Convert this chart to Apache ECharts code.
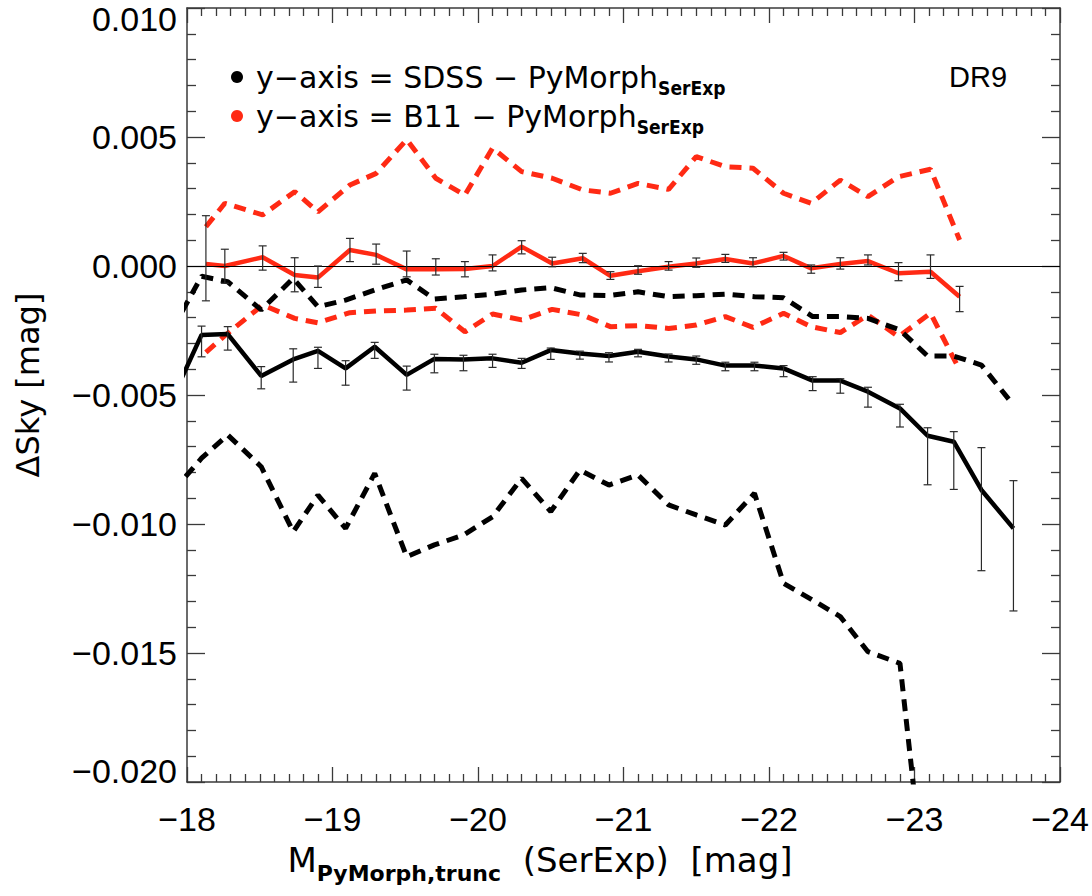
<!DOCTYPE html>
<html>
<head>
<meta charset="utf-8">
<script src="https://cdn.jsdelivr.net/npm/echarts@6/dist/echarts.min.js"></script>
<style>html,body{margin:0;padding:0;background:#fff}#c{width:1092px;height:896px}</style>
</head>
<body>
<div id="c"></div>
<script>
// ---- data ----
const blackX = [-17.9, -18.1, -18.28, -18.51, -18.73, -18.9, -19.09, -19.29, -19.51, -19.7, -19.9, -20.1, -20.3, -20.5, -20.7, -20.9, -21.1, -21.31, -21.5, -21.7, -21.9, -22.1, -22.3, -22.49, -22.68, -22.9, -23.09, -23.27, -23.46, -23.68];
const sdssMean = [-0.00513, -0.00267, -0.00264, -0.00426, -0.00362, -0.00329, -0.00397, -0.00313, -0.00422, -0.0036, -0.00362, -0.00358, -0.00375, -0.00326, -0.00339, -0.00349, -0.00332, -0.00351, -0.00362, -0.00386, -0.00386, -0.00397, -0.00444, -0.00444, -0.00487, -0.00552, -0.00658, -0.00681, -0.00868, -0.01017];
const sdssErrHigh = [null, -0.00233, -0.00235, -0.0039, -0.00321, -0.00315, -0.00367, -0.00296, -0.00388, -0.00342, -0.00346, -0.00342, -0.00358, -0.00318, -0.0033, -0.00336, -0.00323, -0.00341, -0.00349, -0.00373, -0.00373, -0.00386, -0.00429, -0.00437, -0.0047, -0.00536, -0.00627, -0.00642, -0.00704, -0.00832];
const sdssErrLow = [null, -0.00352, -0.00326, -0.00476, -0.0045, -0.00397, -0.00462, -0.00358, -0.00481, -0.00414, -0.00406, -0.00393, -0.00397, -0.00362, -0.00361, -0.00372, -0.00352, -0.00372, -0.00381, -0.00406, -0.00406, -0.00429, -0.00483, -0.00493, -0.00547, -0.00624, -0.00848, -0.00866, -0.01181, -0.01337];
const sdssUpper = [-0.00244, -0.0004, -0.00061, -0.0017, -0.00048, -0.00158, -0.00132, -0.00093, -0.00054, -0.00128, -0.00119, -0.00109, -0.00093, -0.00084, -0.00112, -0.00115, -0.001, -0.00119, -0.00115, -0.00109, -0.00119, -0.00123, -0.00196, -0.00196, -0.00203, -0.00248, -0.00349, -0.00349, -0.00384, -0.00539];
const sdssLower = [-0.00875, -0.00745, -0.00655, -0.00778, -0.0103, -0.00888, -0.01017, -0.00804, -0.01127, -0.01081, -0.01043, -0.00972, -0.00823, -0.00952, -0.00791, -0.00849, -0.0081, -0.00926, -0.00965, -0.01004, -0.00881, -0.0123, -0.01295, -0.01359, -0.01495, -0.0154, -0.0251];

const redX = [-18.13, -18.26, -18.52, -18.74, -18.9, -19.12, -19.3, -19.51, -19.71, -19.91, -20.1, -20.3, -20.51, -20.72, -20.91, -21.1, -21.31, -21.5, -21.7, -21.89, -22.1, -22.29, -22.49, -22.68, -22.89, -23.11, -23.31];
const b11Mean = [0.00008, 0.0, 0.00034, -0.00035, -0.00045, 0.00062, 0.00043, -0.00013, -0.00013, -0.00012, 0.0, 0.00075, 0.0001, 0.0003, -0.00038, -0.0002, -0.00003, 0.0001, 0.00027, 0.0001, 0.00039, -0.00009, 0.00008, 0.00019, -0.00028, -0.00022, -0.00119];
const b11ErrHigh = [0.00195, 0.00065, 0.00078, 0.00032, 0.0, 0.00107, 0.00085, 0.00058, 0.00028, 0.00017, 0.00043, 0.00098, 0.00034, 0.00049, -0.00022, 0.00001, 0.00017, 0.00031, 0.00045, 0.00032, 0.00053, 0.00004, 0.00032, 0.00043, 0.00013, 0.00043, -0.00079];
const b11ErrLow = [-0.00135, -0.00067, -0.00016, -0.001, -0.00083, 0.00017, 0.00007, -0.00042, -0.00035, -0.00042, -0.00019, 0.00047, -0.00003, 0.00013, -0.00052, -0.00032, -0.00016, -0.00005, 0.00014, -0.00003, 0.00023, -0.00028, -0.00012, 0.00004, -0.00057, -0.00048, -0.00177];
const b11Upper = [0.00152, 0.00243, 0.00198, 0.00288, 0.0021, 0.00314, 0.00359, 0.0049, 0.0034, 0.00275, 0.00457, 0.00366, 0.0034, 0.00295, 0.00282, 0.0032, 0.00297, 0.00424, 0.00385, 0.00379, 0.00282, 0.00243, 0.00333, 0.00269, 0.00346, 0.00375, 0.00101];
const b11Lower = [-0.00335, -0.0027, -0.00151, -0.00203, -0.0022, -0.00181, -0.00174, -0.00171, -0.00164, -0.00255, -0.00186, -0.00209, -0.00168, -0.0019, -0.00235, -0.00231, -0.00242, -0.00229, -0.00196, -0.00238, -0.00183, -0.00235, -0.00258, -0.0019, -0.00274, -0.00183, -0.00403];

// ---- helpers ----
const zip = (xs, ys) => ys.map((y, i) => [xs[i], y]);
const bars = (xs, lo, hi) => xs.map((x, i) => [x, lo[i], hi[i]]).filter(d => d[1] !== null && d[1] !== undefined);
const RED = '#ff2a14';
const AX = '#3a3a3a';
const TICKFONT = 'Liberation Sans, Arial, sans-serif';
const TEXTFONT = 'DejaVu Sans, sans-serif';
const SUBFONT = 'DejaVu Sans Condensed, DejaVu Sans, sans-serif';

function errItem(params, api) {
  const x = api.value(0), lo = api.value(1), hi = api.value(2);
  const a = api.coord([x, hi]), b = api.coord([x, lo]);
  const w = 4;
  const st = { stroke: '#2a2a2a', lineWidth: 1.2 };
  return { type: 'group', children: [
    { type: 'line', shape: { x1: a[0], y1: a[1], x2: b[0], y2: b[1] }, style: st },
    { type: 'line', shape: { x1: a[0] - w, y1: a[1], x2: a[0] + w, y2: a[1] }, style: st },
    { type: 'line', shape: { x1: b[0] - w, y1: b[1], x2: b[0] + w, y2: b[1] }, style: st }
  ]};
}

function yFmt(v) {
  if (Math.abs(v) < 1e-9) return '0.000';
  const s = (v < 0 ? '\u2212' : '') + Math.abs(v).toFixed(3);
  if (Math.abs(v - 0.01) < 1e-9) return '{t|' + s + '}';
  if (Math.abs(v + 0.02) < 1e-9) return '{b|' + s + '}';
  return s;
}
function xFmt(v) { return (v < 0 ? '\u2212' : '') + Math.abs(Math.round(v)); }

const tickLine = { color: AX, width: 1.3 };
const xBase = {
  type: 'value', min: -24, max: -18, inverse: true, interval: 1,
  axisLine: { show: true, onZero: false, lineStyle: { color: AX, width: 1.5 } },
  axisTick: { show: true, inside: true, length: 15, lineStyle: tickLine },
  minorTick: { show: true, splitNumber: 10, length: 8, lineStyle: tickLine },
  splitLine: { show: false }, minorSplitLine: { show: false }
};
const yBase = {
  type: 'value', min: -0.02, max: 0.01, interval: 0.005,
  axisLine: { show: true, onZero: false, lineStyle: { color: AX, width: 1.5 } },
  axisTick: { show: true, inside: true, length: 18, lineStyle: tickLine },
  minorTick: { show: true, splitNumber: 5, length: 9, lineStyle: tickLine },
  splitLine: { show: false }, minorSplitLine: { show: false }
};
const labelStyle = { color: '#000', fontFamily: TICKFONT, fontSize: 34 };
const DASH = [12, 8];

const chart = echarts.init(document.getElementById('c'), null, { renderer: 'svg' });
chart.setOption({
  animation: false,
  backgroundColor: '#fff',
  grid: { left: 187, top: 8, width: 873, height: 774 },
  xAxis: [
    Object.assign({}, xBase, { position: 'bottom', axisLabel: Object.assign({ margin: 20, formatter: xFmt }, labelStyle) }),
    Object.assign({}, xBase, { position: 'top', axisLabel: { show: false } })
  ],
  yAxis: [
    Object.assign({}, yBase, { position: 'left', axisLabel: Object.assign({ margin: 10, formatter: yFmt,
      rich: { t: { fontFamily: TICKFONT, fontSize: 34, color: '#000', padding: [22, 0, 0, 0] },
              b: { fontFamily: TICKFONT, fontSize: 34, color: '#000', padding: [0, 0, 22, 0] } } }, labelStyle) }),
    Object.assign({}, yBase, { position: 'right', axisLabel: { show: false } })
  ],
  series: [
    { name: 'B11 upper', type: 'line', data: zip(redX, b11Upper), showSymbol: false, z: 2,
      lineStyle: { color: RED, width: 5, type: DASH } },
    { name: 'B11 lower', type: 'line', data: zip(redX, b11Lower), showSymbol: false, z: 2,
      lineStyle: { color: RED, width: 5, type: DASH } },
    { name: 'SDSS upper', type: 'line', data: zip(blackX, sdssUpper), showSymbol: false, z: 2,
      lineStyle: { color: '#000', width: 5, type: DASH } },
    { name: 'SDSS lower', type: 'line', data: zip(blackX, sdssLower), showSymbol: false, z: 2,
      lineStyle: { color: '#000', width: 5, type: DASH } },
    { name: 'SDSS', type: 'line', data: zip(blackX, sdssMean), showSymbol: false, z: 3,
      lineStyle: { color: '#000', width: 4.5 },
      markLine: { silent: true, symbol: 'none', label: { show: false },
        lineStyle: { color: '#000', width: 1.2, type: 'solid' }, data: [{ yAxis: 0 }] } },
    { name: 'B11', type: 'line', data: zip(redX, b11Mean), showSymbol: false, z: 3,
      lineStyle: { color: RED, width: 4.5 } },
    { name: 'SDSS err', type: 'custom', renderItem: errItem, data: bars(blackX, sdssErrLow, sdssErrHigh),
      encode: { x: 0, y: [1, 2] }, z: 5 },
    { name: 'B11 err', type: 'custom', renderItem: errItem, data: bars(redX, b11ErrLow, b11ErrHigh),
      encode: { x: 0, y: [1, 2] }, z: 5 }
  ],
  graphic: [
    { type: 'circle', shape: { cx: 237, cy: 77, r: 6 }, style: { fill: '#000' } },
    { type: 'circle', shape: { cx: 237, cy: 116, r: 6 }, style: { fill: RED } },
    { type: 'text', x: 256, y: 77, style: { text: '{m|y\u2212axis = SDSS \u2212 PyMorph}{s|SerExp}', verticalAlign: 'middle',
      rich: { m: { fontFamily: TEXTFONT, fontSize: 30, fill: '#000' }, s: { fontFamily: SUBFONT, fontWeight: 'bold', fontSize: 19, fill: '#000', padding: [22, 0, 0, 0] } } } },
    { type: 'text', x: 256, y: 116, style: { text: '{m|y\u2212axis = B11 \u2212 PyMorph}{s|SerExp}', verticalAlign: 'middle',
      rich: { m: { fontFamily: TEXTFONT, fontSize: 30, fill: '#000' }, s: { fontFamily: SUBFONT, fontWeight: 'bold', fontSize: 19, fill: '#000', padding: [22, 0, 0, 0] } } } },
    { type: 'text', x: 978, y: 77, style: { text: 'DR9', align: 'center', verticalAlign: 'middle', fontFamily: TICKFONT, fontSize: 29, fill: '#000' } },
    { type: 'text', x: 28, y: 385, rotation: Math.PI / 2, style: { text: '\u0394Sky [mag]', align: 'center', verticalAlign: 'middle', fontFamily: TEXTFONT, fontSize: 32, fill: '#000' } },
    { type: 'text', x: 540, y: 860, style: { text: '{m|M}{s|PyMorph,trunc}{m|  (SerExp)  [mag]}', align: 'center', verticalAlign: 'middle',
      rich: { m: { fontFamily: TEXTFONT, fontSize: 34, fill: '#000' }, s: { fontFamily: TEXTFONT, fontWeight: 'bold', fontSize: 22, fill: '#000', padding: [26, 0, 0, 0] } } } }
  ]
});
</script>
</body>
</html>
